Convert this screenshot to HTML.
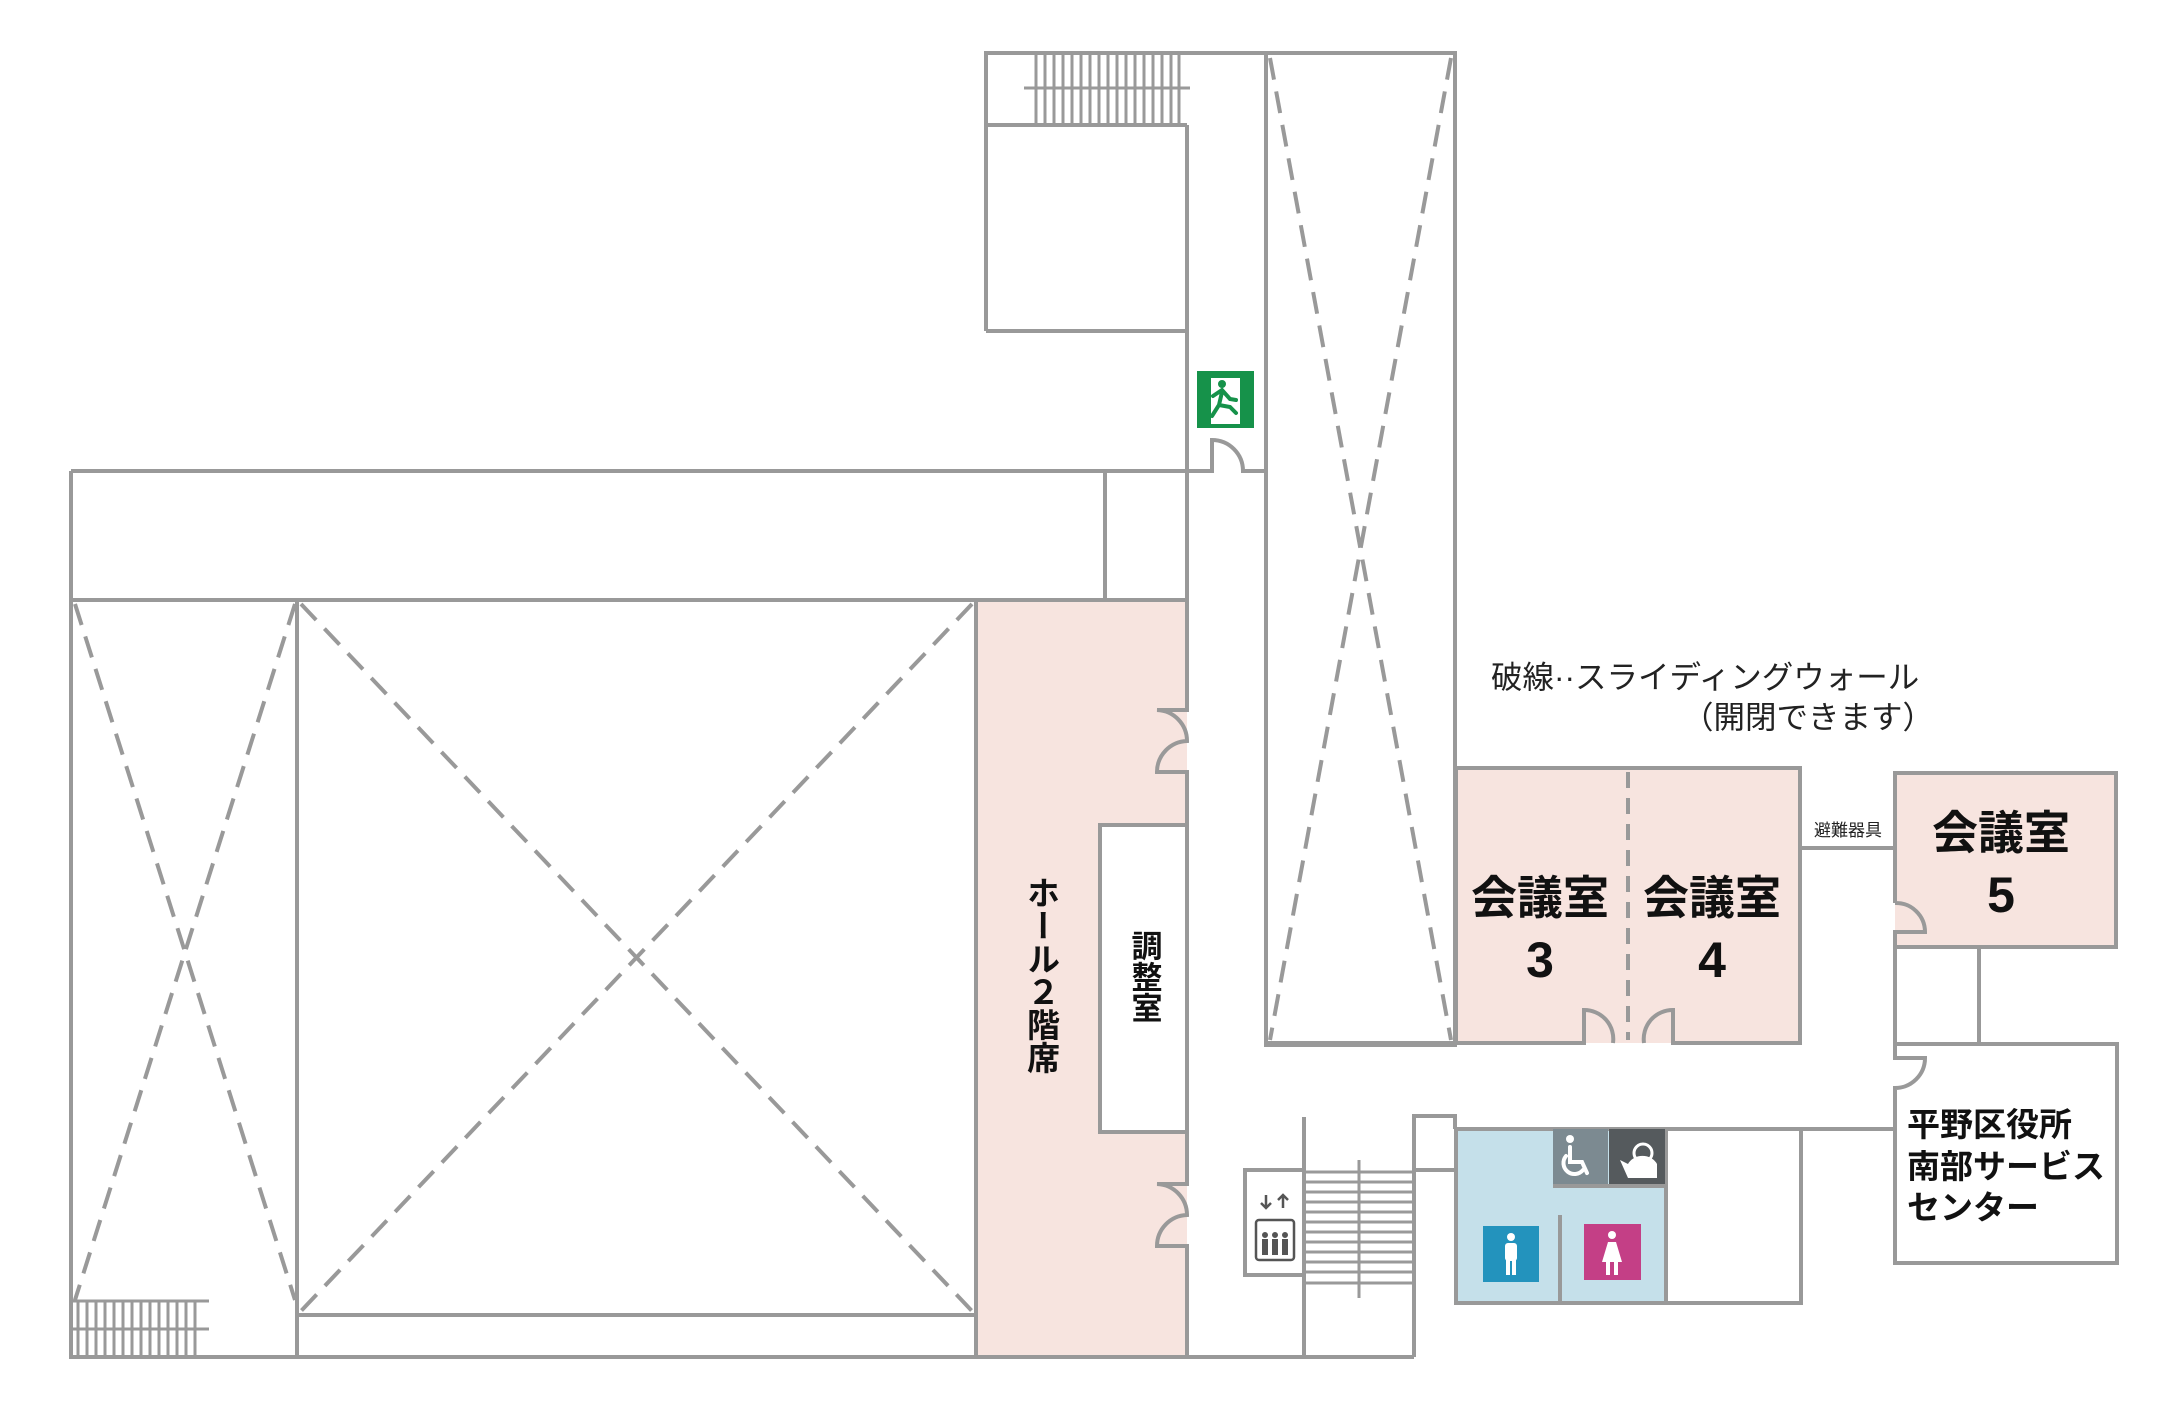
<!DOCTYPE html>
<html><head><meta charset="utf-8"><style>
html,body{margin:0;padding:0;background:#fff;}
svg{display:block}
text{font-family:"Liberation Sans","Noto Sans CJK JP",sans-serif;}
</style></head><body>
<svg width="2167" height="1410" viewBox="0 0 2167 1410" xmlns="http://www.w3.org/2000/svg">
<g fill="none" stroke="#999" stroke-width="4" stroke-linejoin="miter">
<rect x="976" y="600" width="211" height="757" fill="#f7e4df" stroke="none"/>
<rect x="1456" y="768" width="344" height="275" fill="#f7e4df" stroke="none"/>
<rect x="1895" y="773" width="221" height="174" fill="#f7e4df" stroke="none"/>
<rect x="1456" y="1129" width="210" height="174" fill="#c5e0ea" stroke="none"/>

<path d="M986 331 V53 H1455"/>
<path d="M986 125 H1187"/>
<path d="M986 331 H1187"/>
<path d="M1187 125 V471"/>
<path d="M1024 88 H1190" stroke-width="3"/>
<g stroke-width="3">
<path d="M1036 55V123M1045 55V123M1054 55V123M1063 55V123M1072 55V123M1081 55V123M1090 55V123M1099 55V123M1108 55V123M1117 55V123M1126 55V123M1135 55V123M1144 55V123M1153 55V123M1162 55V123M1171 55V123M1179 55V123"/>
</g>
<rect x="1266" y="53" width="189" height="992"/>
<path d="M1270 58 L1451 1040 M1451 58 L1270 1040" stroke-dasharray="22 12"/>
<path d="M71 471 H1212 V440 A31 31 0 0 1 1243 471 H1266"/>
<path d="M71 471 V1357 H1414"/>
<path d="M71 600 H1187"/>
<path d="M1105 471 V600"/>
<path d="M297 600 V1357"/>
<path d="M976 600 V1357"/>
<path d="M297 1315 H976"/>
<path d="M75 604 L295 1300 M295 604 L75 1300" stroke-dasharray="22 12"/>
<path d="M301 604 L972 1311 M972 604 L301 1311" stroke-dasharray="22 12"/>
<path d="M71 1301 H209 M71 1329 H209" stroke-width="3"/>
<path d="M78 1301V1357M87 1301V1357M96 1301V1357M105 1301V1357M114 1301V1357M123 1301V1357M132 1301V1357M141 1301V1357M150 1301V1357M159 1301V1357M168 1301V1357M177 1301V1357M186 1301V1357M195 1301V1357" stroke-width="3"/>
<path d="M1187 471 V710 H1157 A31 31 0 0 1 1187 741 A31 31 0 0 0 1157 772 H1187 V1184 H1157 A31 31 0 0 1 1187 1215 A31 31 0 0 0 1157 1246 H1187 V1357"/>
<rect x="1100" y="825" width="87" height="307" fill="#fff"/>
<path d="M1304 1117 V1357"/>
<rect x="1245" y="1170" width="59" height="105" fill="#fff"/>
<path d="M1414 1116 V1357"/>
<path d="M1414 1170 V1116 H1455 V1129"/>
<path d="M1304 1172H1414M1304 1182H1414M1304 1192H1414M1304 1202H1414M1304 1212H1414M1304 1222H1414M1304 1232H1414M1304 1242H1414M1304 1252H1414M1304 1262H1414M1304 1272H1414M1304 1283H1414" stroke-width="3"/>
<path d="M1359 1160 V1298" stroke-width="3"/>
<path d="M1414 1170 H1456"/>
<path d="M1456 1129 H1895"/>
<path d="M1456 1129 V1303 H1801 V1129"/>
<path d="M1666 1129 V1303"/>
<path d="M1560 1215 V1303"/>
<path d="M1553 1186 H1666"/>
<path d="M1456 1045 V768 H1800 V1043 H1673 V1010 A29 29 0 0 0 1644 1043 M1613 1043 A29 29 0 0 0 1584 1010 V1043 H1455"/>
<path d="M1628 772 V1040" stroke-dasharray="16 10"/>
<path d="M1266 1043 H1456"/>
<path d="M1800 848 H1895"/>
<path d="M1895 903 V773 H2116 V947 H1895 V932 H1925 A29 29 0 0 0 1895 903"/>
<path d="M1895 947 V1044 M1979 947 V1044"/>
<path d="M1895 1044 H2117 V1263 H1895 V1088 A30 30 0 0 0 1925 1058 H1895 V1044"/>
</g>
<g>
<rect x="1197" y="371" width="57" height="57" fill="#16924a"/>
<rect x="1206" y="378" width="39" height="46" fill="#fff"/>
<rect x="1206" y="378" width="5" height="46" fill="#16924a"/>
<rect x="1240" y="378" width="5" height="46" fill="#16924a"/>
<circle cx="1222" cy="384" r="4" fill="#16924a"/>
<path d="M1213 396 L1222 390 L1230 399 L1236 400 M1222 392 L1219 405 L1212 416 M1219 405 L1230 407 L1236 413" stroke="#16924a" stroke-width="4" fill="none" stroke-linecap="round"/>
</g>
<g fill="#555" stroke="#555">
<path d="M1266 1208 v-13 M1261 1203 l5 5 5-5 M1283 1195 v13 M1278 1200 l5-5 5 5" stroke-width="2.5" fill="none"/>
<rect x="1256" y="1220" width="38" height="40" rx="3" fill="none" stroke-width="2.5"/>
<circle cx="1265" cy="1235" r="2.5"/><circle cx="1275" cy="1235" r="2.5"/><circle cx="1285" cy="1235" r="2.5"/>
<rect x="1262" y="1239" width="6" height="16" stroke="none"/><rect x="1272" y="1239" width="6" height="16" stroke="none"/><rect x="1282" y="1239" width="6" height="16" stroke="none"/>
</g>
<rect x="1553" y="1129" width="55" height="55" fill="#7c8a91"/>
<rect x="1609" y="1129" width="56" height="55" fill="#555a5d"/>
<g fill="none" stroke="#fff" stroke-width="4" stroke-linecap="round">
<circle cx="1570" cy="1139" r="4" fill="#fff" stroke="none"/>
<path d="M1570 1147 V1162 H1582 L1587 1173"/>
<path d="M1566 1156 A10 10 0 1 0 1583 1170"/>
</g>
<g fill="#fff">
<path d="M1620 1160 L1628 1164 A16 14 0 0 1 1657 1164 L1657 1178 L1628 1178 Z"/>
<circle cx="1643" cy="1153" r="9" fill="none" stroke="#fff" stroke-width="3"/>
</g>
<rect x="1483" y="1226" width="56" height="56" fill="#2393bd"/>
<rect x="1584" y="1224" width="57" height="56" fill="#c43f86"/>
<g fill="#fff">
<circle cx="1511" cy="1237" r="4"/>
<rect x="1505" y="1243" width="12" height="18" rx="3"/>
<rect x="1506" y="1258" width="4" height="17"/><rect x="1512" y="1258" width="4" height="17"/>
<circle cx="1612" cy="1235" r="4"/>
<path d="M1608 1242 H1616 L1622 1262 H1602 Z"/>
<rect x="1606" y="1260" width="4" height="15"/><rect x="1614" y="1260" width="4" height="15"/>
</g>
<text x="1491" y="688" font-size="31.5" fill="#222">破線··スライディングウォール</text>
<text x="1682" y="728" font-size="31.5" fill="#222">（開閉できます）</text>
<text x="1848" y="836" font-size="17" fill="#222" text-anchor="middle">避難器具</text>
<g font-weight="bold" fill="#111" text-anchor="middle">
<text x="1540" y="914" font-size="46">会議室</text>
<text x="1540" y="977" font-size="50">3</text>
<text x="1712" y="914" font-size="46">会議室</text>
<text x="1712" y="977" font-size="50">4</text>
<text x="2001" y="849" font-size="46">会議室</text>
<text x="2001" y="912" font-size="50">5</text>
</g>
<g font-weight="bold" fill="#111" font-size="33">
<text x="1907" y="1136">平野区役所</text>
<text x="1907" y="1178">南部サービス</text>
<text x="1907" y="1219">センター</text>
</g>
<text x="1041" y="876" font-size="33" font-weight="bold" fill="#111" style="writing-mode:vertical-rl">ホール２階席</text>
<text x="1144" y="930" font-size="31" font-weight="bold" fill="#111" style="writing-mode:vertical-rl">調整室</text>
</svg>
</body></html>
